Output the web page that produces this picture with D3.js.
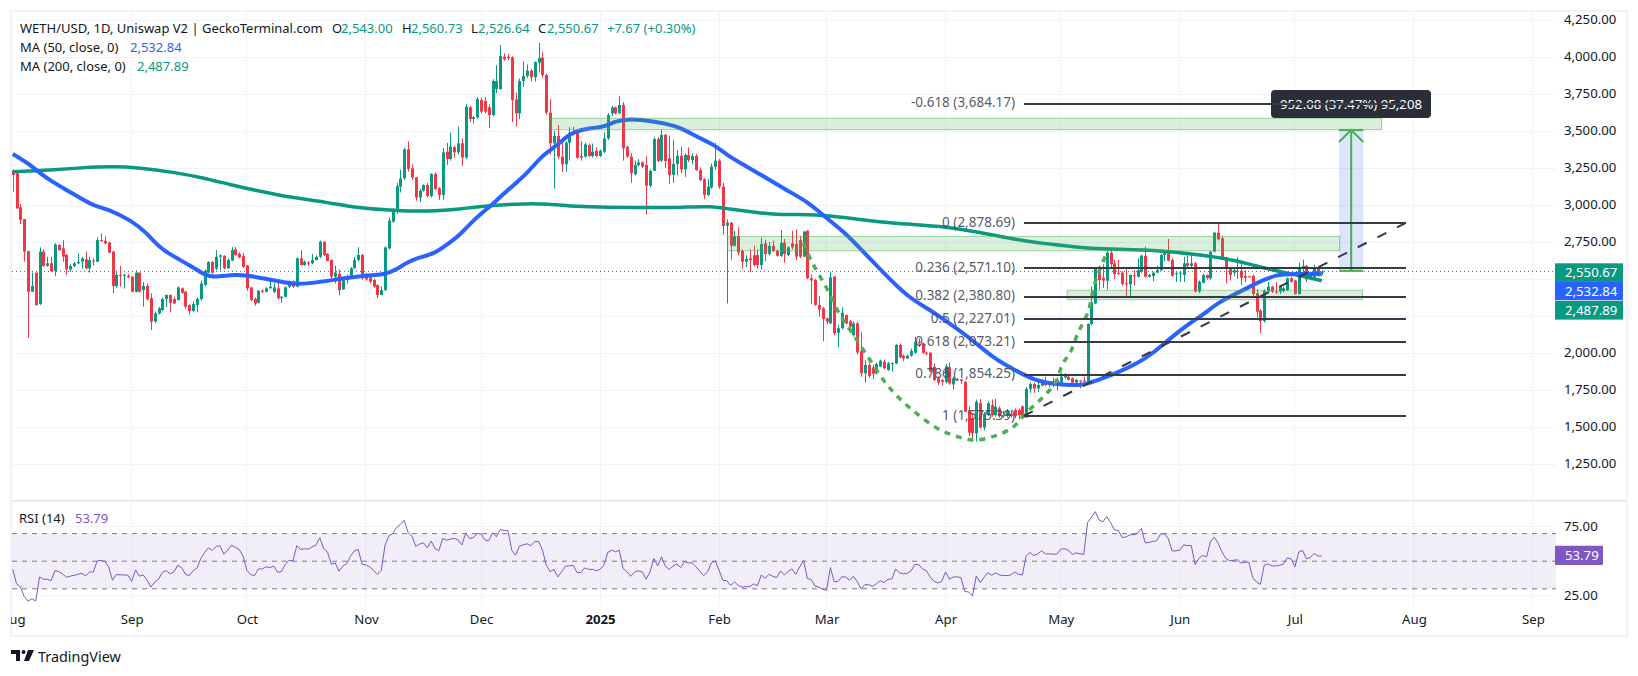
<!DOCTYPE html>
<html>
<head>
<meta charset="utf-8">
<script src="https://cdn.jsdelivr.net/npm/d3@7"></script>
<style>
html, body { margin: 0; padding: 0; background: #fff; }
svg { display: block; font-family: "Noto Sans", sans-serif; }
.axis text { fill: #131722; font-size: 13.2px; font-family: "Noto Sans", sans-serif; }
.axis path, .axis line { display: none; }
</style>
</head>
<body>
<div id="chart"></div>
<script>
// candles, one per day from 1 Aug 2024 to 8 Jul 2025
var opens = [
	3235,3214,2984,2905,2689,2414,2543,2331,2685,2588,
	2606,2556,2730,2707,2662,2565,2588,2606,2617,2633,
	2572,2625,2617,2763,2758,2747,2685,2453,2527,2522,
	2522,2515,2414,2543,2425,2453,2370,2212,2268,2290,
	2365,2392,2365,2358,2437,2414,2324,2284,2324,2365,
	2460,2543,2615,2570,2650,2657,2572,2625,2700,2669,
	2655,2590,2443,2365,2340,2421,2414,2437,2414,2437,
	2370,2380,2448,2482,2448,2640,2595,2612,2606,2628,
	2650,2752,2669,2628,2515,2534,2430,2493,2504,2572,
	2628,2662,2527,2511,2493,2459,2392,2425,2707,2887,
	2955,3124,3180,3376,3248,3187,3050,3097,3135,3061,
	3210,3113,3068,3360,3311,3390,3356,3417,3322,3660,
	3581,3592,3709,3703,3660,3608,3784,3784,4002,4002,
	3998,3714,3619,3838,3872,3908,3863,3962,3995,3878,
	3624,3417,3466,3327,3275,3421,3495,3500,3330,3327,
	3405,3331,3365,3331,3360,3450,3619,3660,3619,3676,
	3394,3327,3207,3270,3288,3270,3130,3230,3446,3300,
	3473,3315,3203,3277,3333,3241,3338,3304,3331,3236,
	3174,3068,3118,3259,3300,3124,2860,2881,2725,2790,
	2689,2617,2640,2660,2662,2594,2741,2669,2723,2690,
	2657,2745,2662,2741,2736,2763,2651,2826,2505,2493,
	2324,2302,2234,2200,2516,2137,2167,2257,2215,2121,
	2200,2013,1863,1919,1903,1862,1908,1941,1885,1925,
	1930,2054,1982,1964,1982,2002,2076,2065,2002,2002,
	1907,1829,1817,1805,1905,1788,1824,1822,1806,1615,
	1558,1457,1660,1497,1580,1648,1580,1626,1580,1574,
	1588,1615,1615,1640,1565,1757,1790,1761,1779,1813,
	1790,1806,1817,1779,1835,1840,1829,1800,1814,1815,
	1806,2196,2335,2583,2509,2489,2678,2606,2540,2543,
	2470,2464,2525,2515,2549,2657,2516,2520,2543,2560,
	2662,2678,2628,2535,2537,2527,2606,2588,2606,2415,
	2475,2527,2505,2685,2813,2775,2646,2572,2543,2549,
	2556,2520,2518,2522,2403,2286,2216,2415,2448,2415,
	2415,2419,2425,2505,2489,2399,2572,2588,2505,2510,2576,2543
];
var highs = [
	3240,3215,3007,2905,2689,2543,2543,2714,2700,2650,
	2650,2741,2735,2763,2669,2600,2615,2673,2650,2685,
	2650,2640,2781,2808,2790,2750,2690,2555,2588,2535,
	2535,2520,2560,2545,2480,2470,2403,2280,2310,2375,
	2395,2395,2380,2450,2443,2420,2330,2350,2375,2490,
	2565,2620,2620,2695,2665,2660,2640,2715,2715,2680,
	2675,2595,2445,2375,2425,2430,2445,2490,2470,2480,
	2385,2450,2490,2490,2645,2695,2625,2620,2670,2660,
	2760,2755,2675,2630,2590,2565,2500,2530,2580,2650,
	2715,2670,2540,2520,2500,2465,2450,2720,2915,2980,
	3150,3240,3385,3430,3275,3190,3110,3140,3150,3215,
	3220,3120,3385,3420,3490,3400,3530,3450,3680,3670,
	3600,3730,3725,3730,3680,3850,3945,4081,4025,4020,
	4005,3760,3855,3970,3950,3920,3970,4095,4035,3890,
	3715,3500,3540,3440,3430,3525,3530,3505,3430,3420,
	3415,3415,3390,3375,3490,3620,3670,3665,3735,3695,
	3400,3350,3300,3310,3295,3330,3240,3460,3460,3510,
	3480,3470,3440,3370,3395,3350,3390,3350,3345,3255,
	3180,3175,3280,3420,3310,3150,2903,2885,2825,2850,
	2700,2660,2700,2725,2700,2780,2765,2750,2760,2700,
	2830,2770,2720,2825,2835,2790,2825,2830,2530,2500,
	2385,2310,2240,2550,2520,2190,2310,2260,2225,2215,
	2210,2140,1950,1930,1920,1935,1955,1955,1940,1935,
	2060,2065,1990,1990,2030,2110,2100,2070,2010,2005,
	1930,1840,1825,1925,1935,1840,1830,1825,1810,1640,
	1590,1685,1690,1600,1675,1685,1690,1640,1610,1620,
	1615,1625,1625,1645,1770,1800,1800,1830,1825,1840,
	1810,1835,1835,1865,1865,1845,1835,1825,1815,1840,
	2200,2450,2580,2590,2600,2715,2710,2630,2630,2555,
	2570,2530,2560,2640,2665,2720,2535,2550,2590,2670,
	2690,2770,2640,2550,2550,2650,2660,2670,2615,2490,
	2535,2530,2690,2820,2875,2790,2650,2580,2570,2650,
	2600,2560,2520,2530,2430,2295,2430,2480,2455,2480,
	2460,2450,2510,2515,2495,2610,2630,2595,2550,2595,2585,2560.73
];
var lows = [
	3090,2975,2872,2617,2103,2414,2320,2325,2583,2583,
	2550,2520,2690,2617,2527,2550,2580,2600,2570,2565,
	2543,2590,2615,2752,2735,2675,2403,2440,2450,2435,
	2505,2410,2410,2410,2313,2355,2155,2205,2260,2285,
	2310,2275,2330,2355,2400,2300,2260,2275,2275,2355,
	2455,2540,2535,2560,2560,2565,2570,2620,2660,2640,
	2575,2420,2350,2320,2335,2405,2410,2435,2405,2360,
	2340,2375,2440,2440,2445,2590,2590,2590,2600,2625,
	2640,2655,2620,2505,2470,2390,2425,2470,2500,2570,
	2620,2495,2490,2470,2440,2370,2390,2420,2700,2880,
	2940,3085,3170,3225,3170,3030,3020,3090,3055,3050,
	3100,3035,3035,3270,3300,3320,3340,3265,3310,3560,
	3550,3585,3620,3620,3520,3600,3755,3780,3975,3980,
	3560,3530,3580,3800,3860,3835,3835,3895,3860,3610,
	3340,3110,3310,3225,3225,3300,3470,3310,3300,3320,
	3325,3320,3325,3325,3350,3440,3600,3610,3615,3300,
	3320,3150,3200,3260,3250,2935,3120,3230,3290,3290,
	3250,3140,3150,3200,3215,3190,3290,3275,3230,3160,
	3040,3060,3110,3240,3110,2800,2335,2630,2720,2660,
	2570,2580,2545,2585,2570,2565,2620,2660,2680,2650,
	2650,2610,2655,2700,2630,2640,2650,2500,2330,2320,
	2245,2080,2195,2195,2120,2040,2160,2195,2170,2110,
	1990,1840,1800,1830,1825,1855,1905,1890,1880,1875,
	1925,1965,1945,1960,1975,1995,2040,1995,1985,1870,
	1810,1785,1780,1795,1785,1755,1810,1790,1600,1440,
	1415,1402,1490,1480,1575,1570,1570,1560,1560,1565,
	1565,1560,1550,1560,1560,1730,1730,1735,1775,1775,
	1770,1770,1745,1775,1825,1815,1795,1790,1760,1795,
	1800,2190,2330,2430,2440,2430,2580,2500,2530,2455,
	2380,2370,2455,2510,2540,2510,2510,2485,2540,2555,
	2620,2620,2515,2480,2480,2480,2580,2580,2410,2405,
	2470,2495,2495,2680,2760,2630,2470,2490,2520,2500,
	2460,2480,2510,2385,2240,2135,2205,2405,2405,2400,
	2400,2410,2420,2475,2395,2395,2530,2480,2490,2500,2515,2526.64
];
var closes = [
	3203,2977,2899,2685,2414,2453,2324,2685,2588,2606,
	2554,2734,2695,2651,2565,2588,2606,2615,2640,2572,
	2628,2620,2763,2758,2740,2678,2453,2527,2520,2530,
	2510,2414,2543,2414,2453,2363,2212,2268,2302,2365,
	2392,2340,2335,2443,2407,2313,2284,2331,2365,2470,
	2556,2615,2543,2650,2660,2572,2628,2695,2662,2646,
	2583,2437,2358,2335,2421,2414,2437,2448,2443,2370,
	2380,2443,2482,2448,2640,2595,2617,2606,2628,2650,
	2752,2662,2622,2515,2543,2425,2493,2515,2572,2628,
	2662,2504,2498,2482,2448,2392,2425,2714,2894,2955,
	3128,3180,3376,3243,3185,3050,3097,3135,3061,3210,
	3108,3068,3356,3311,3394,3356,3417,3322,3664,3581,
	3592,3716,3631,3631,3608,3838,3838,4007,3984,3993,
	3709,3619,3838,3872,3908,3863,3966,3993,3878,3624,
	3417,3466,3327,3275,3421,3489,3478,3320,3320,3410,
	3331,3360,3331,3367,3450,3608,3660,3619,3676,3383,
	3327,3214,3270,3288,3259,3130,3230,3446,3297,3473,
	3297,3203,3277,3333,3241,3338,3304,3331,3236,3169,
	3068,3124,3259,3300,3124,2858,2880,2725,2790,2680,
	2617,2635,2628,2594,2594,2736,2669,2723,2690,2657,
	2745,2669,2714,2714,2651,2651,2820,2505,2490,2324,
	2295,2230,2212,2511,2133,2167,2272,2200,2178,2200,
	2004,1863,1919,1845,1860,1926,1948,1897,1930,1932,
	2054,1970,1964,1982,2014,2076,2068,2002,1998,1874,
	1818,1800,1806,1910,1795,1829,1818,1812,1603,1462,
	1457,1671,1497,1588,1660,1580,1637,1574,1572,1610,
	1574,1574,1580,1574,1757,1790,1761,1784,1818,1784,
	1800,1784,1790,1840,1845,1818,1800,1818,1808,1813,
	2196,2342,2577,2493,2489,2678,2601,2534,2535,2466,
	2465,2527,2520,2560,2657,2516,2527,2543,2560,2662,
	2678,2624,2522,2540,2543,2606,2588,2606,2415,2482,
	2527,2505,2685,2813,2768,2640,2568,2527,2560,2556,
	2509,2509,2516,2399,2279,2216,2419,2448,2415,2410,
	2448,2437,2505,2482,2399,2572,2588,2498,2540,2579,2527,2550.67
];

var ma50Days = [0,1,4,7,10,14,18,21,25,31,35,38,42,46,50,52,57,60,66,71,74,79,87,91,97,100,103,106,110,113,116.5,120,125,128,131,134,138,142,145,149.5,154,157,161,164,169,174,178,182.5,186,190.5,195,201.5,207,211,217,221.5,227,233,239,244,250,255.5,261,266,271,279,282,287.5,293,297,301.5,306.5,310,314,318,323,329,334.5,341];
var ma50Vals = [3344,3331,3281,3218,3162,3101,3041,2995,2971,2894,2809,2718,2651,2594,2527,2513,2527,2529,2502,2475,2464,2475,2509,2522,2529,2565,2617,2646,2673,2730,2797,2899,3004,3079,3146,3214,3338,3405,3484,3518,3525,3568,3581,3574,3556,3525,3462,3412,3338,3270,3203,3101,3023,2932,2809,2685,2538,2381,2290,2200,2088,1964,1885,1817,1790,1777,1813,1863,1930,1998,2099,2200,2257,2340,2392,2459,2534,2534,2532.84];
var ma200Days = [0,10,18,26,33,42,49,57,64,72,82,89,100,111,116.5,125,134,139,147,154,169,174,182,187,194,200,207,215.5,226,234.5,243,252,261,267,271,280,295,306,316,323,328,334.5,341];
var ma200Vals = [3225,3236,3252,3261,3252,3221,3187,3135,3095,3052,3018,2982,2960,2959,2973,3000,3009,3007,2989,2984,2982,2984,2993,2971,2948,2932,2939,2921,2883,2869,2854,2815,2768,2745,2734,2703,2700,2673,2640,2595,2561,2527,2487.89];

var rsiVals = [
	44.2,33.7,31.3,24.5,21.1,22.8,21.1,38.6,36.9,36.9,
	35.9,43.2,42.5,40.8,38.4,39.1,39.8,40.5,41.3,39.3,
	42.2,42.2,50.2,50.5,49.8,45.9,36.2,40.3,40.1,40.1,
	39.8,35.4,43.7,39.1,40.1,36.2,31.3,34.9,36.9,42,
	43.2,40.8,42.2,47.1,45.4,40.5,39.6,43,44.9,52,
	56.3,59.7,57.8,60.7,61.2,55.1,58,61.7,60,58.5,
	53.7,43.4,40.3,39.6,44.4,44.4,45.9,45.4,46.4,42,
	42.5,47.6,50.7,50.2,61.2,58.5,59,58.7,60.4,61.7,
	67,59.2,56.8,47.8,48.8,42.7,46.4,48.3,53.6,57.5,
	58.5,47.8,47.3,45.9,43.4,40.3,43.4,61.7,68.4,70.1,
	74.5,76.7,79.6,70.6,68.2,60.7,62.4,63.3,59.7,64.6,
	59.2,57.5,66.5,65.3,66,66.5,65.5,61.7,70.4,66.5,
	67,70.1,69.7,65.3,64.8,70.6,67.7,73,72.3,72.3,
	58,54.4,60.9,61.9,62.6,61.2,64.3,64.3,58,47.1,
	42.5,44,38.6,42.5,46.4,46.6,47.1,41.8,41.8,45.2,
	44,44.2,43,44.2,47.1,56.3,58,56.8,58,44.7,
	42.2,39.1,42.2,43,42.2,36.9,42.2,52,46.6,53.2,
	46.4,44,46.4,48,45.4,49.8,48.8,48.8,45.9,42.7,
	39.6,42.2,48.8,50.2,43.5,36.2,35.9,32.5,35,32.5,
	31.1,31.6,31.6,33.5,32.3,40,37.6,40.5,39.1,38.1,
	43,40,42.7,44.4,40.5,45.9,50.5,37.4,36.7,32,
	31.3,29.6,28.9,45.4,35,35.4,38.8,38.4,36.2,39.1,
	35,30.1,33,33,31.8,33.7,35.9,34.5,36.9,37.1,
	44.4,41.5,40.8,41.3,43,47.6,47.6,44.4,43.2,38.6,
	35.5,34.2,35.5,42.2,36.9,38.6,38.6,38.1,28.2,27.7,
	24.8,39.3,34.5,38.1,41.8,39.8,41.5,40,39.6,39.6,
	40,42.2,40.5,40,53.9,56.3,54.1,55.3,57.5,55.3,
	55.3,55.1,55.1,58.7,59,58,54.9,56.1,55.3,54.9,
	78.1,81.8,85.9,79.8,78.6,82.3,77.9,72.6,72.3,67.2,
	67.5,69.2,69.2,70.1,73.8,63.3,63.6,64.3,64.8,69.7,
	69.9,66.5,57.5,57.5,58,61.9,61.2,61.4,47.6,52,
	54.1,53.2,64.1,67.5,62.9,56.8,52,50.2,50.7,51,
	48.6,49.3,49.3,38.1,34.9,33.2,47.1,48,46.6,46.6,
	47.1,47.8,52.4,51.7,45.9,56.6,57.8,51.7,52.7,55.6,53.7,53.79
];

// drawings
var fibPrices = [3684.17,2878.69,2571.10,2380.80,2227.01,2073.21,1854.25,1575.39];
var fibLabels = ["-0.618 (3,684.17)","0 (2,878.69)","0.236 (2,571.10)","0.382 (2,380.80)","0.5 (2,227.01)","0.618 (2,073.21)","0.786 (1,854.25)","1 (1,575.39)"];
var fibStart = 263.4, fibEnd = 362.9;
var zoneStart = [140.1,186.2,274.7];
var zoneEnd = [356.6,345.7,351.6];
var zoneTop = [3586,2788,2424];
var zoneBottom = [3509,2691,2360];
var cupDays = [205.9,208.2,212,215.5,218.5,222.8,227.2,230.6,235,240.7,245.5,250.7,255.9,260.6,264.2,268.4,271.5,273.6,275.4,277.5,280.1,281.9,284,285.3];
var cupPrices = [2743,2615,2439,2257,2142,1973,1804,1703,1601,1493,1440,1412,1440,1500,1601,1703,1797,1932,1999,2135,2277,2473,2615,2696];
var measureStart = 345.5, measureEnd = 351.8, measureMid = 348.65;
var measureFrom = 2555, measureTo = 3507;

// axes
var priceTicks = [4250,4000,3750,3500,3250,3000,2750,2500,2250,2000,1750,1500,1250];
var priceLabels = [4250,4000,3750,3500,3250,3000,2750,2000,1750,1500,1250]; // 2,500 and 2,250 sit behind the tags
var rsiTicks = [75,25];
var rsiBands = [70,50,30];
var monthDays = [0,31,61,92,122,153,184,212,243,273,304,334,365,396];
var monthLabels = ["Aug","Sep","Oct","Nov","Dec","2025","Feb","Mar","Apr","May","Jun","Jul","Aug","Sep"];

var green = "#089981", red = "#f23645", blue = "#2962ff", teal = "#089981", purple = "#7e57c2", dark = "#363a45";
var width = 1638, height = 676;
var plotLeft = 12, plotRight = 1556;

var x = d3.scaleLinear().domain([0, 100]).range([12.7, 396.6]);
var y = d3.scaleLinear().domain([4250, 1250]).range([20, 464]);
var yRsi = d3.scaleLinear().domain([75, 25]).range([526.7, 595.7]);

var svg = d3.select("#chart").append("svg")
	.attr("width", width)
	.attr("height", height);

var defs = svg.append("defs");
defs.append("clipPath").attr("id", "plotClip").append("rect")
	.attr("x", plotLeft).attr("y", 12).attr("width", plotRight - plotLeft).attr("height", 488);
defs.append("clipPath").attr("id", "timeClip").append("rect")
	.attr("x", 11).attr("y", 606).attr("width", plotRight - plotLeft + 10).attr("height", 29);
var dots = defs.append("pattern").attr("id", "dots")
	.attr("width", 4).attr("height", 4).attr("patternUnits", "userSpaceOnUse");
dots.append("circle").attr("cx", 1).attr("cy", 1).attr("r", 0.5).attr("fill", "#7e57c2").attr("opacity", 0.12);
dots.append("circle").attr("cx", 3).attr("cy", 3).attr("r", 0.5).attr("fill", "#7e57c2").attr("opacity", 0.12);
var dotsBlue = defs.append("pattern").attr("id", "dotsBlue")
	.attr("width", 4).attr("height", 4).attr("patternUnits", "userSpaceOnUse");
dotsBlue.append("circle").attr("cx", 1).attr("cy", 1).attr("r", 0.5).attr("fill", "#2962ff").attr("opacity", 0.18);
dotsBlue.append("circle").attr("cx", 3).attr("cy", 3).attr("r", 0.5).attr("fill", "#2962ff").attr("opacity", 0.18);

// grid
var grid = svg.append("g");
grid.selectAll(".gridH").data(priceTicks).enter().append("line")
	.attr("x1", plotLeft).attr("x2", plotRight)
	.attr("y1", function(d) { return y(d); }).attr("y2", function(d) { return y(d); })
	.attr("stroke", "#f0f3fa").attr("shape-rendering", "crispEdges");
grid.selectAll(".gridR").data([75, 25]).enter().append("line")
	.attr("x1", plotLeft).attr("x2", plotRight)
	.attr("y1", function(d) { return yRsi(d); }).attr("y2", function(d) { return yRsi(d); })
	.attr("stroke", "#f0f3fa").attr("shape-rendering", "crispEdges");
grid.selectAll(".gridV").data(monthDays.slice(1)).enter().append("line")
	.attr("x1", function(d) { return x(d); }).attr("x2", function(d) { return x(d); })
	.attr("y1", 12).attr("y2", 605)
	.attr("stroke", "#f0f3fa").attr("shape-rendering", "crispEdges");

// frame
svg.append("rect").attr("x", 11).attr("y", 11).attr("width", 1616).attr("height", 625)
	.attr("fill", "none").attr("stroke", "#f0f3fa").attr("stroke-width", 2);
svg.append("line").attr("x1", 12).attr("x2", 1626).attr("y1", 500.7).attr("y2", 500.7)
	.attr("stroke", "#e0e3eb").attr("stroke-width", 1.5);

var main = svg.append("g").attr("clip-path", "url(#plotClip)");

// candles
var candles = main.selectAll(".candle").data(closes).enter().append("g");
candles.append("rect")
	.attr("x", function(d, i) { return Math.round(x(i)); })
	.attr("width", 1)
	.attr("y", function(d, i) { return y(highs[i]); })
	.attr("height", function(d, i) { return y(lows[i]) - y(highs[i]); })
	.attr("fill", function(d, i) { return d >= opens[i] ? green : red; });
candles.append("rect")
	.attr("x", function(d, i) { return Math.round(x(i)) - 1; })
	.attr("width", 3)
	.attr("y", function(d, i) { return y(Math.max(d, opens[i])); })
	.attr("height", function(d, i) { return Math.max(1, Math.abs(y(d) - y(opens[i]))); })
	.attr("fill", function(d, i) { return d >= opens[i] ? green : red; });

// moving averages
var maLine = function(days, vals) {
	return d3.line()
		.x(function(d, i) { return x(days[i]); })
		.y(function(d) { return y(d); })
		.curve(d3.curveBasis)(vals);
};
main.append("path").attr("d", maLine(ma200Days, ma200Vals))
	.attr("fill", "none").attr("stroke", teal).attr("stroke-width", 3.5);
main.append("path").attr("d", maLine(ma50Days, ma50Vals))
	.attr("fill", "none").attr("stroke", blue).attr("stroke-width", 4);

// last price line
main.append("line").attr("x1", plotLeft).attr("x2", plotRight)
	.attr("y1", y(2550.67)).attr("y2", y(2550.67))
	.attr("stroke", green).attr("stroke-width", 1).attr("stroke-dasharray", "1,3");

// green zones
zoneStart.forEach(function(s, i) {
	main.append("rect")
		.attr("x", x(s)).attr("width", x(zoneEnd[i]) - x(s))
		.attr("y", y(zoneTop[i])).attr("height", y(zoneBottom[i]) - y(zoneTop[i]))
		.attr("fill", "#4caf50").attr("fill-opacity", 0.2)
		.attr("stroke", "#4caf50").attr("stroke-opacity", 0.5);
});

// cup curve
main.append("path")
	.attr("d", d3.line()
		.x(function(d, i) { return x(cupDays[i]); })
		.y(function(d) { return y(d); })
		.curve(d3.curveCatmullRom)(cupPrices))
	.attr("fill", "none").attr("stroke", "#4caf50").attr("stroke-width", 3.5)
	.attr("stroke-dasharray", "6,6");

// trend line under the fib levels
main.append("line")
	.attr("x1", x(fibStart)).attr("y1", y(fibPrices[7]))
	.attr("x2", x(fibEnd)).attr("y2", y(fibPrices[1]))
	.attr("stroke", dark).attr("stroke-width", 2).attr("stroke-dasharray", "10,12");

// measure tool
main.append("rect")
	.attr("x", x(measureStart)).attr("width", x(measureEnd) - x(measureStart))
	.attr("y", y(measureTo)).attr("height", y(measureFrom) - y(measureTo))
	.attr("fill", "#2962ff").attr("fill-opacity", 0.15);
main.append("rect")
	.attr("x", x(measureStart)).attr("width", x(measureEnd) - x(measureStart))
	.attr("y", y(measureTo)).attr("height", y(measureFrom) - y(measureTo))
	.attr("fill", "url(#dotsBlue)");
var arrow = main.append("g").attr("fill", "none").attr("stroke", "#4caf50").attr("stroke-width", 2);
arrow.append("line").attr("x1", x(measureMid)).attr("x2", x(measureMid)).attr("y1", y(measureFrom)).attr("y2", y(measureTo));
arrow.append("line").attr("x1", x(measureStart)).attr("x2", x(measureEnd)).attr("y1", y(measureFrom)).attr("y2", y(measureFrom));
arrow.append("line").attr("x1", x(measureStart)).attr("x2", x(measureEnd)).attr("y1", y(measureTo)).attr("y2", y(measureTo));
arrow.append("path").attr("d", "M" + x(measureStart) + "," + (y(measureTo) + 12) + "L" + x(measureMid) + "," + y(measureTo) + "L" + x(measureEnd) + "," + (y(measureTo) + 12));

// measure label, the top fib line runs across it
main.append("rect").attr("x", 1271).attr("y", 90).attr("width", 160).attr("height", 28).attr("rx", 4)
	.attr("fill", "#2a2e39");
main.append("text").attr("x", 1351).attr("y", y(3684.17) + 5).attr("text-anchor", "middle")
	.attr("fill", "#fff").attr("font-size", 13.2).text("952.08 (37.47%) 95,208");

// fib levels
main.selectAll(".fib").data(fibPrices).enter().append("line")
	.attr("x1", x(fibStart)).attr("x2", x(fibEnd))
	.attr("y1", function(d) { return Math.round(y(d)); }).attr("y2", function(d) { return Math.round(y(d)); })
	.attr("stroke", dark).attr("stroke-width", 2).attr("shape-rendering", "crispEdges");
svg.selectAll(".fibLabel").data(fibPrices).enter().append("text")
	.attr("x", 1015)
	.attr("y", function(d) { return y(d) - 1; })
	.attr("dy", "0.35em")
	.attr("text-anchor", "end")
	.attr("fill", "#434651").attr("fill-opacity", 0.9)
	.attr("font-size", 13.5)
	.text(function(d, i) { return fibLabels[i]; });

// rsi
svg.append("rect")
	.attr("x", plotLeft).attr("width", plotRight - plotLeft)
	.attr("y", yRsi(70)).attr("height", yRsi(30) - yRsi(70))
	.attr("fill", purple).attr("fill-opacity", 0.09);
svg.append("rect")
	.attr("x", plotLeft).attr("width", plotRight - plotLeft)
	.attr("y", yRsi(70)).attr("height", yRsi(30) - yRsi(70))
	.attr("fill", "url(#dots)");
svg.selectAll(".band").data(rsiBands).enter().append("line")
	.attr("x1", plotLeft).attr("x2", plotRight)
	.attr("y1", function(d) { return yRsi(d); }).attr("y2", function(d) { return yRsi(d); })
	.attr("stroke", "#787b86").attr("stroke-dasharray", "5,5");
svg.append("path")
	.attr("d", d3.line()
		.x(function(d, i) { return x(i); })
		.y(function(d) { return yRsi(d); })(rsiVals))
	.attr("fill", "none").attr("stroke", purple).attr("stroke-width", 1);

// price and rsi axes
svg.append("g").attr("class", "axis").attr("transform", "translate(1564,-1)")
	.call(d3.axisRight(y).tickValues(priceLabels).tickSize(0).tickPadding(0).tickFormat(d3.format(",.2f")));
svg.append("g").attr("class", "axis").attr("transform", "translate(1564,0)")
	.call(d3.axisRight(yRsi).tickValues(rsiTicks).tickSize(0).tickPadding(0).tickFormat(d3.format(".2f")));

// time axis
var timeAxis = svg.append("g").attr("class", "axis").attr("clip-path", "url(#timeClip)")
	.append("g").attr("transform", "translate(0,615)")
	.call(d3.axisBottom(x).tickValues(monthDays).tickSize(0).tickPadding(0)
		.tickFormat(function(d, i) { return monthLabels[i]; }));
timeAxis.selectAll("text").attr("font-weight", function(d, i) { return monthLabels[i] === "2025" ? "bold" : null; });

// price tags
var tagValues = [2550.67, 2532.84, 2487.89];
var tagColors = [green, blue, green];
var tagTops = [263.3, 281.7, 301];
tagValues.forEach(function(v, i) {
	svg.append("rect").attr("x", 1555).attr("y", tagTops[i]).attr("width", 68).attr("height", 18.6)
		.attr("fill", tagColors[i]);
	svg.append("text").attr("x", 1565).attr("y", tagTops[i] + 14)
		.attr("fill", "#fff").attr("font-size", 13.2).text(d3.format(",.2f")(v));
});
svg.append("rect").attr("x", 1555).attr("y", 545.7).attr("width", 48).attr("height", 19.3).attr("rx", 1)
	.attr("fill", purple);
svg.append("text").attr("x", 1565).attr("y", 560.2).attr("fill", "#fff").attr("font-size", 13.2).text("53.79");

// legend
var legend = svg.append("g").attr("font-size", 13);
var addText = function(tx, ty, str, col) {
	legend.append("text").attr("x", tx).attr("y", ty).attr("fill", col).text(str);
};
addText(20, 33, "WETH/USD, 1D, Uniswap V2 | GeckoTerminal.com", "#131722");
addText(332, 33, "O", "#131722");
addText(341, 33, "2,543.00", green);
addText(402, 33, "H", "#131722");
addText(411, 33, "2,560.73", green);
addText(471, 33, "L", "#131722");
addText(478, 33, "2,526.64", green);
addText(538, 33, "C", "#131722");
addText(547, 33, "2,550.67", green);
addText(607, 33, "+7.67 (+0.30%)", green);
addText(20, 52, "MA (50, close, 0)", "#131722");
addText(130, 52, "2,532.84", blue);
addText(20, 71, "MA (200, close, 0)", "#131722");
addText(137, 71, "2,487.89", green);
addText(19, 523, "RSI (14)", "#131722");
addText(75, 523, "53.79", purple);

// logo
var logo = svg.append("g").attr("fill", "#131722");
logo.append("path").attr("d", "M11,650h9v11h-4v-7h-5z");
logo.append("circle").attr("cx", 23.5).attr("cy", 652).attr("r", 2);
logo.append("path").attr("d", "M28,650h6l-5,11h-5z");
svg.append("text").attr("x", 38).attr("y", 662).attr("font-size", 14.4).attr("fill", "#131722").text("TradingView");
</script>
</body>
</html>
